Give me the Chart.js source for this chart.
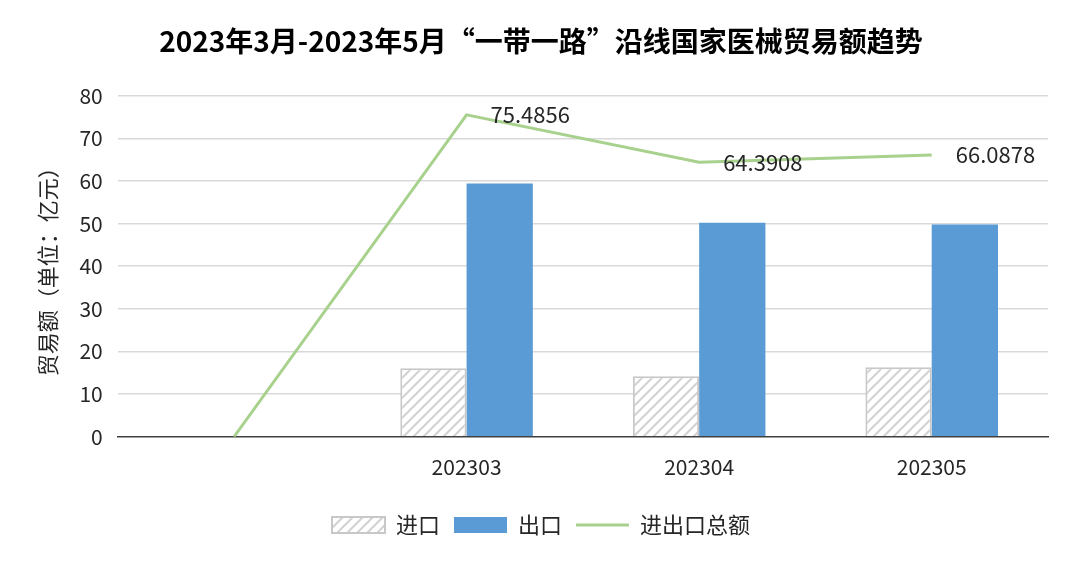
<!DOCTYPE html>
<html>
<head>
<meta charset="utf-8">
<script src="https://cdn.jsdelivr.net/npm/chart.js@4.4.0/dist/chart.umd.min.js"></script>
<style>
  html,body{margin:0;padding:0;background:#fff;}
  #wrap{width:1080px;height:568px;position:relative;}
</style>
</head>
<body>
<div id="wrap"><canvas id="c" width="1080" height="568"></canvas></div>
<script>
const categories = ['', '202303', '202304', '202305'];
const importValues = [null, 16.1, 14.2, 16.3];
const exportValues = [null, 59.4, 50.2, 49.8];
const totalValues = [0, 75.4856, 64.3908, 66.0878];
const yTicks = [0, 10, 20, 30, 40, 50, 60, 70, 80];

const FONT = '"Noto Sans CJK SC", "Noto Sans", sans-serif';

function makeHatch() {
  const s = 10;
  const p = document.createElement('canvas');
  p.width = s; p.height = s;
  const g = p.getContext('2d');
  g.fillStyle = '#ffffff';
  g.fillRect(0, 0, s, s);
  g.strokeStyle = '#d2d2d2';
  g.lineWidth = 2;
  g.beginPath();
  g.moveTo(0, s); g.lineTo(s, 0);
  g.moveTo(-s/2, s/2); g.lineTo(s/2, -s/2);
  g.moveTo(s/2, s*1.5); g.lineTo(s*1.5, s/2);
  g.stroke();
  return document.getElementById('c').getContext('2d').createPattern(p, 'repeat');
}
const hatch = makeHatch();

const lineLabels = {
  id: 'lineLabels',
  afterDatasetsDraw(chart) {
    const ctx = chart.ctx;
    const meta = chart.getDatasetMeta(2);
    ctx.save();
    ctx.font = '22px ' + FONT;
    ctx.fillStyle = '#262626';
    ctx.textAlign = 'left';
    ctx.textBaseline = 'middle';
    meta.data.forEach((pt, i) => {
      const v = totalValues[i];
      if (!v) return;
      ctx.fillText(String(v), pt.x + 24, pt.y);
    });
    ctx.restore();
  }
};

new Chart(document.getElementById('c'), {
  type: 'bar',
  data: {
    labels: categories,
    datasets: [
      {
        label: '进口',
        data: importValues,
        backgroundColor: hatch,
        borderColor: '#c8c8c8',
        borderWidth: 2,
        borderSkipped: 'bottom',
        pointStyle: 'rect'
      },
      {
        label: '出口',
        data: exportValues,
        backgroundColor: '#5b9bd5',
        borderColor: '#5b9bd5',
        borderWidth: 0,
        pointStyle: 'rect'
      },
      {
        type: 'line',
        label: '进出口总额',
        data: totalValues,
        borderColor: '#a9d18e',
        backgroundColor: '#a9d18e',
        borderWidth: 3,
        pointRadius: 0,
        pointHoverRadius: 0,
        tension: 0,
        pointStyle: 'line'
      }
    ]
  },
  options: {
    responsive: false,
    animation: false,
    devicePixelRatio: 1,
    layout: { padding: { left: 34, right: 32, top: 25, bottom: 22 } },
    datasets: {
      bar: { categoryPercentage: 0.57, barPercentage: 1.0 }
    },
    plugins: {
      title: {
        display: true,
        text: '2023年3月-2023年5月“一带一路”沿线国家医械贸易额趋势',
        color: '#000000',
        font: { family: FONT, size: 28, weight: 'bold' },
        padding: { top: 0, bottom: 37 }
      },
      legend: {
        position: 'bottom',
        labels: {
          usePointStyle: true,
          pointStyleWidth: 53,
          boxHeight: 16,
          padding: 14,
          color: '#262626',
          font: { family: FONT, size: 22 }
        }
      },
      tooltip: { enabled: false }
    },
    scales: {
      x: {
        grid: { display: false },
        border: { display: true, color: '#404040', width: 1.5 },
        ticks: { color: '#262626', font: { family: FONT, size: 21 }, padding: 10 },
        afterFit(scale) { scale.height += 10; }
      },
      y: {
        min: 0,
        max: 80,
        afterBuildTicks(axis) { axis.ticks = yTicks.map(v => ({ value: v })); },
        grid: {
          color: (c) => c.tick && c.tick.value === 0 ? 'rgba(0,0,0,0)' : '#d9d9d9',
          lineWidth: 1.5,
          drawTicks: false
        },
        border: { display: false },
        ticks: { color: '#262626', font: { family: FONT, size: 21 }, padding: 15 },
        title: {
          display: true,
          text: '贸易额（单位：亿元）',
          color: '#262626',
          font: { family: FONT, size: 22 },
          padding: { top: 0, bottom: 4 }
        }
      }
    }
  },
  plugins: [lineLabels]
});
</script>
</body>
</html>
